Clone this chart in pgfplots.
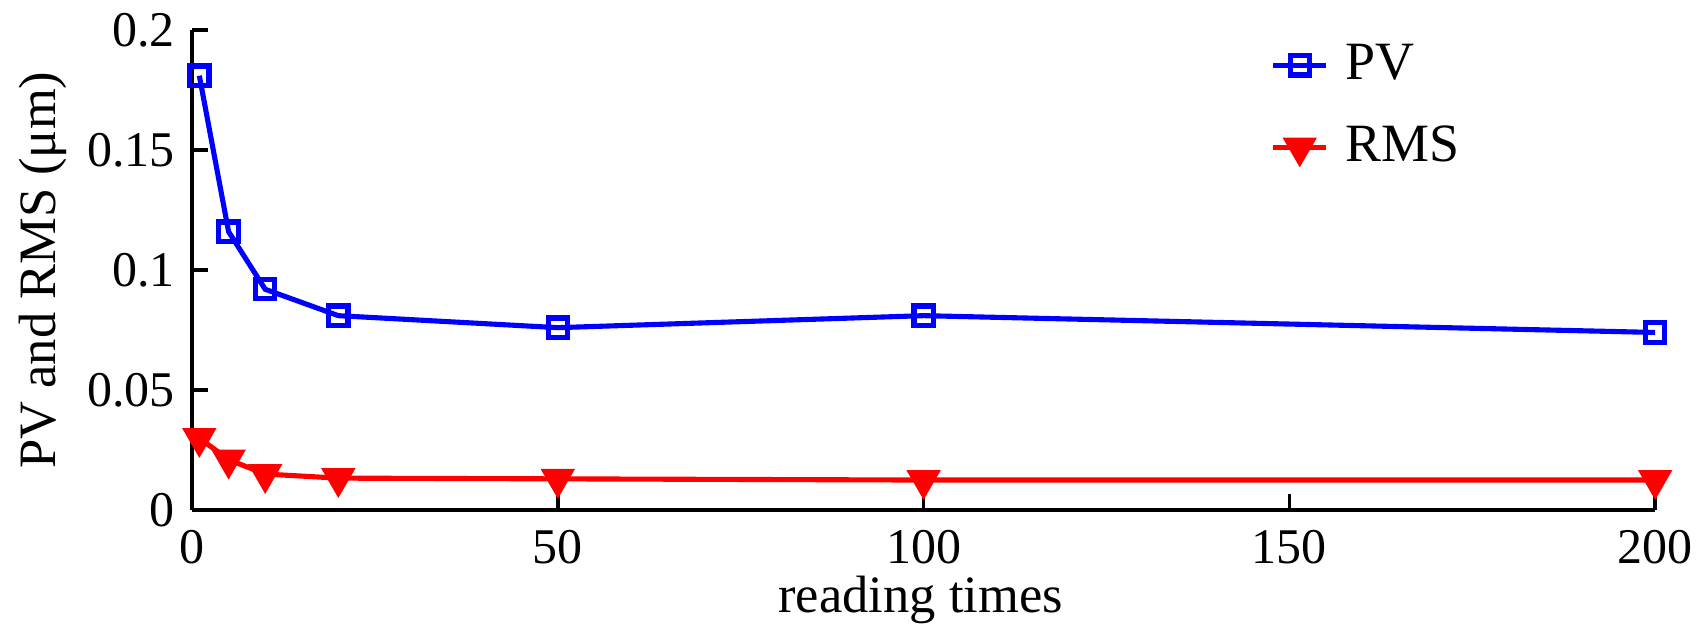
\documentclass[border=0pt]{standalone}
\usepackage{pgfplots}
\pgfplotsset{compat=1.18}
\usepackage{fontspec}
\setmainfont{Liberation Serif}
\begin{document}
\fontsize{17.6}{21}\selectfont
\begin{tikzpicture}
\begin{axis}[
  scale only axis,
  width=515.5pt, height=169.1pt,
  xmin=0, xmax=200, ymin=0, ymax=0.2,
  axis x line*=bottom, axis y line*=left,
  axis line style={line width=1.4pt,-},
  tick align=inside,
  major tick length=5.5pt,
  tick style={line width=1.2pt,black},
  xtick={0,50,100,150,200},
  ytick={0,0.05,0.1,0.15,0.2},
  yticklabels={0,0.05,0.1,0.15,0.2},
  scaled y ticks=false,
  /pgf/number format/assume math mode=true,
  ticklabel style={font=\fontsize{17.6}{21}\selectfont},
  xticklabel style={yshift=-1pt},
  xlabel={reading times},
  ylabel={PV and RMS (μm)},
  label style={font=\fontsize{18.5}{22}\selectfont},
  xlabel style={at={(axis description cs:0.498,-0.2125)}, anchor=base, inner sep=0pt},
  ylabel style={at={(axis description cs:-0.0936,0.5)}, anchor=base, inner sep=0pt},
  legend style={draw=none, fill=none, at={(0.731,0.996)}, anchor=north west,
    font=\fontsize{19}{22}\selectfont, row sep=9.8pt, column sep=4pt},
  legend image code/.code={\draw[mark repeat=2,mark phase=2] plot coordinates {(0pt,0pt) (9.35pt,0pt) (18.7pt,0pt)};},
  legend cell align=left,
  clip=false,
]
\coordinate (O) at (rel axis cs:0,0);
\addplot[color=blue, line width=1.8pt, mark=square, mark size=3.4pt,
  mark options={line width=1.8pt, fill=white}]
  coordinates {(1,0.181) (5,0.116) (10,0.092) (20,0.081) (50,0.076) (100,0.081) (200,0.074)};
\addlegendentry{PV}
\addplot[color=red, line width=1.8pt, mark=triangle*, mark size=6pt,
  mark options={rotate=180, fill=red, line width=1pt}]
  coordinates {(1,0.030) (5,0.021) (10,0.015) (20,0.0133) (50,0.013) (100,0.0125) (200,0.0125)};
\addlegendentry{RMS}
\end{axis}
\pgfresetboundingbox
\path[use as bounding box] ([shift={(-67.65pt,-39.8pt)}]O) rectangle ++(600pt,219.5pt);
\end{tikzpicture}
\end{document}
